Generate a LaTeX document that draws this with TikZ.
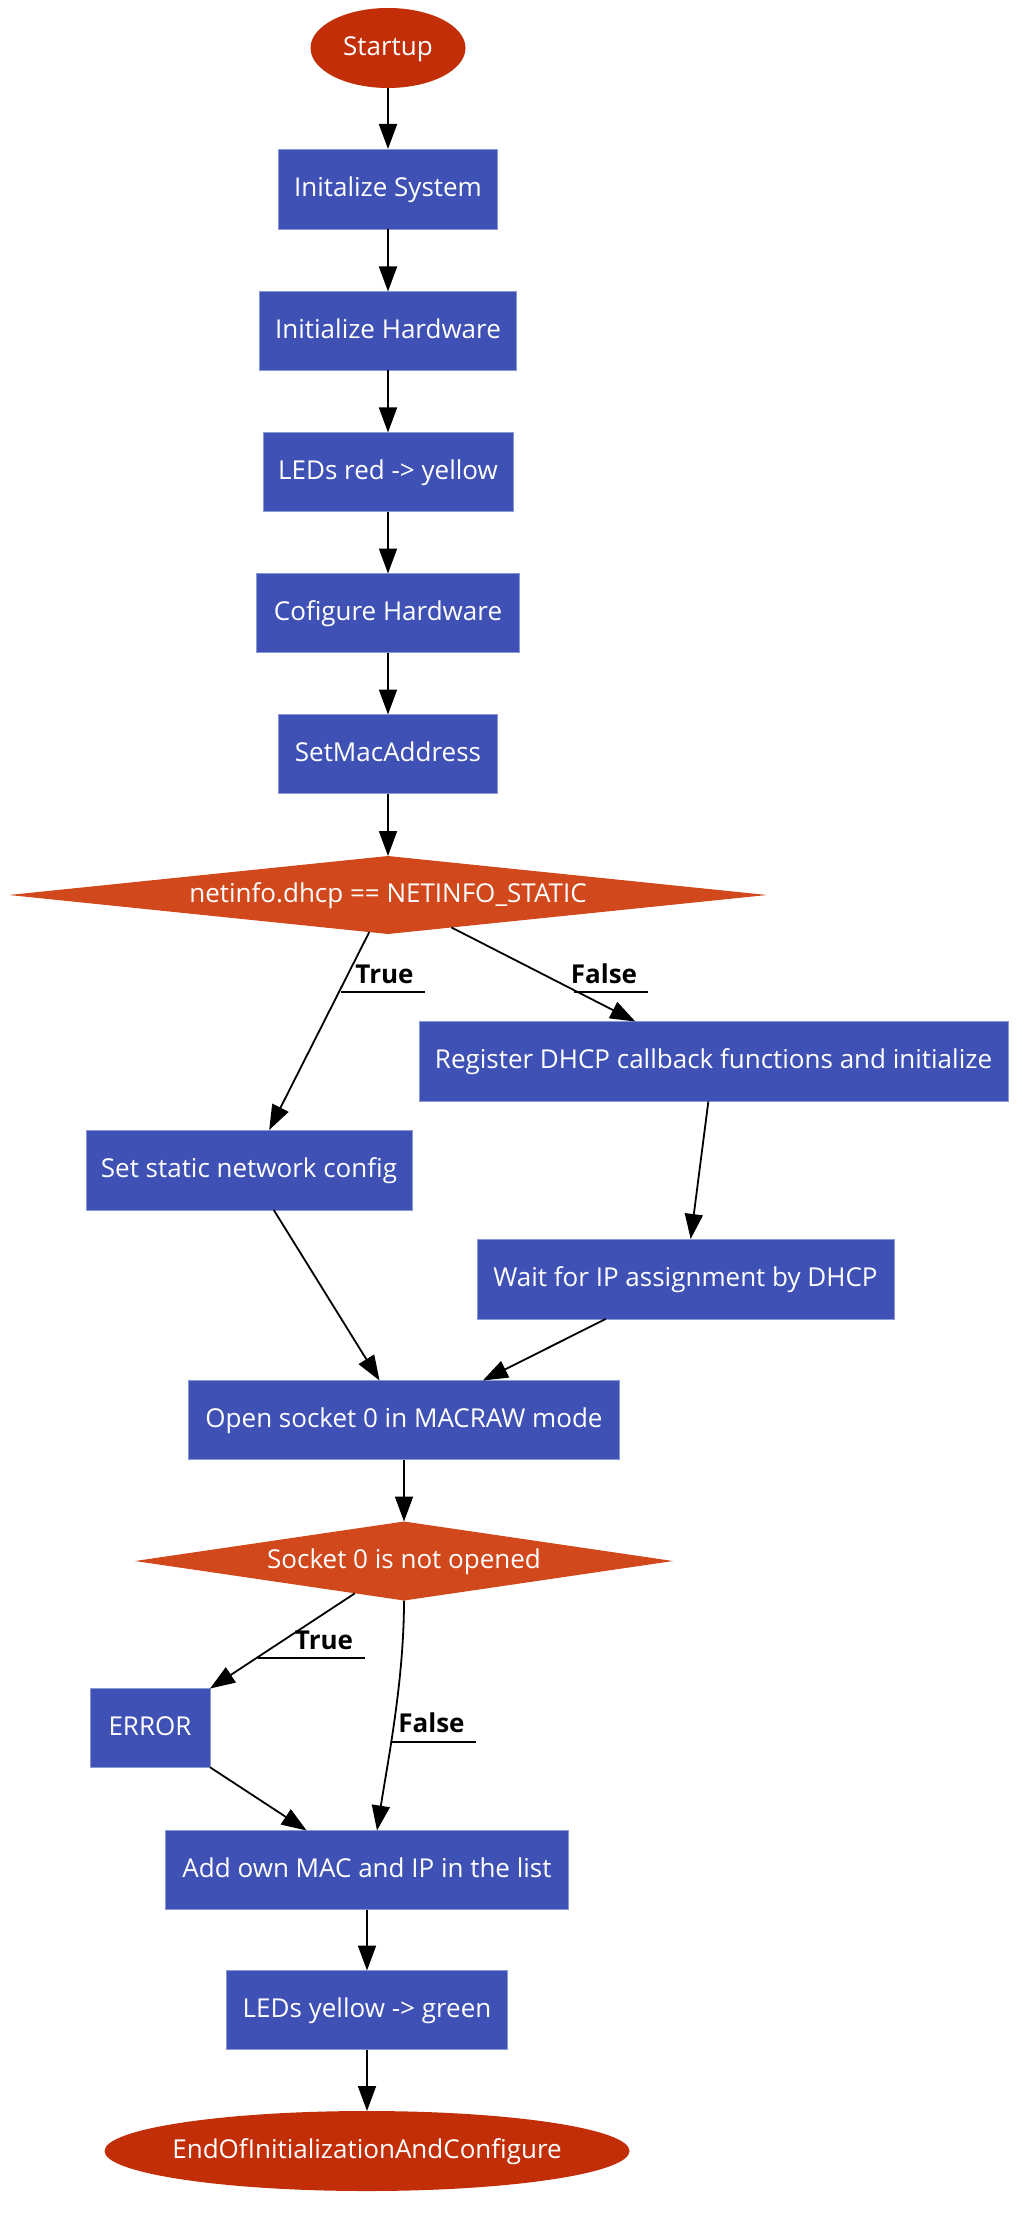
\documentclass[tikz,border=0pt]{standalone}
\usepackage{fontspec}
\setmainfont{Open Sans}
\usetikzlibrary{shapes.geometric,arrows.meta}
\definecolor{termc}{RGB}{194,46,8}
\definecolor{decc}{RGB}{209,72,28}
\definecolor{boxc}{RGB}{63,81,181}
\definecolor{boxb}{RGB}{140,152,214}
\newcommand{\ctext}[1]{\makebox[0pt]{\raisebox{-0.28em}[0pt][0pt]{#1}}}
\begin{document}
\begin{tikzpicture}[x=0.5pt,y=-0.5pt,
 every node/.style={inner sep=0pt,outer sep=0pt,font=\fontsize{13}{15}\selectfont},
 sz/.style 2 args={minimum width=#1*0.5pt,minimum height=#2*0.5pt},
 proc/.style={rectangle,fill=boxc,draw=boxb,line width=0.4pt,text=white},
 term/.style={ellipse,fill=termc,text=white},
 dec/.style={diamond,fill=decc,text=white},
 conn/.style={line width=0.9pt,-{Triangle[length=12.5pt,width=9pt]}},
 lbl/.style={font=\fontsize{13}{15}\selectfont\bfseries,anchor=base},
 uline/.style={line width=0.8pt}]
\fill[white] (0,0) rectangle (1031,2214);
\useasboundingbox (0,0) rectangle (1031,2214);

\node[term,sz={155}{80}] (start) at (388,48) {\ctext{Startup}};
\node[proc,sz={219}{80}] (n1) at (388,189) {\ctext{Initalize System}};
\node[proc,sz={257}{79}] (n2) at (388,331) {\ctext{Initialize Hardware}};
\node[proc,sz={250}{79}] (n3) at (388,472) {\ctext{LEDs red -> yellow}};
\node[proc,sz={263}{79}] (n4) at (388,613) {\ctext{Cofigure Hardware}};
\node[proc,sz={219}{79}] (n5) at (388,754) {\ctext{SetMacAddress}};
\node[dec,sz={758}{78}] (d1) at (388,895) {\ctext{netinfo.dhcp == NETINFO\_STATIC}};
\node[proc,sz={589}{80}] (n6) at (713.5,1061.5) {\ctext{Register DHCP callback functions and initialize}};
\node[proc,sz={326}{80}] (n7) at (249,1170) {\ctext{Set static network config}};
\node[proc,sz={417}{80}] (n8) at (685.5,1279) {\ctext{Wait for IP assignment by DHCP}};
\node[proc,sz={431}{79}] (n9) at (404,1420) {\ctext{Open socket 0 in MACRAW mode}};
\node[dec,sz={538}{79}] (d2) at (404,1561) {\ctext{Socket 0 is not opened}};
\node[proc,sz={120}{79}] (err) at (150,1728) {\ctext{ERROR}};
\node[proc,sz={403}{79}] (n10) at (367,1870) {\ctext{Add own MAC and IP in the list}};
\node[proc,sz={281}{79}] (n11) at (367,2010) {\ctext{LEDs yellow -> green}};
\node[term,sz={525}{80}] (fin) at (367,2151) {\ctext{EndOfInitializationAndConfigure}};

\draw[conn] (start) -- (n1);
\draw[conn] (n1) -- (n2);
\draw[conn] (n2) -- (n3);
\draw[conn] (n3) -- (n4);
\draw[conn] (n4) -- (n5);
\draw[conn] (n5) -- (d1);
\draw[conn] (d1) -- (n7);
\draw[conn] (d1) -- (n6);
\draw[conn] (n6) -- (n8);
\draw[conn] (n7) -- (n9);
\draw[conn] (n8) -- (n9);
\draw[conn] (n9) -- (d2);
\draw[conn] (d2) -- (err);
\draw[conn] (d2.south) .. controls (404,1680) and (388,1760) .. ([xshift=5pt]n10.north);
\draw[conn] (err) -- (n10);
\draw[conn] (n10) -- (n11);
\draw[conn] (n11) -- (fin);

\node[lbl] (t1) at (384.5,983) {True};
\draw[uline] (341,992) -- (425,992);
\node[lbl] (f1) at (604,983) {False};
\draw[uline] (574,992) -- (648,992);
\node[lbl] (t2) at (324,1649) {True};
\draw[uline] (258,1658) -- (365,1658);
\node[lbl] (f2) at (431.5,1732) {False};
\draw[uline] (391,1742) -- (476,1742);
\end{tikzpicture}
\end{document}
